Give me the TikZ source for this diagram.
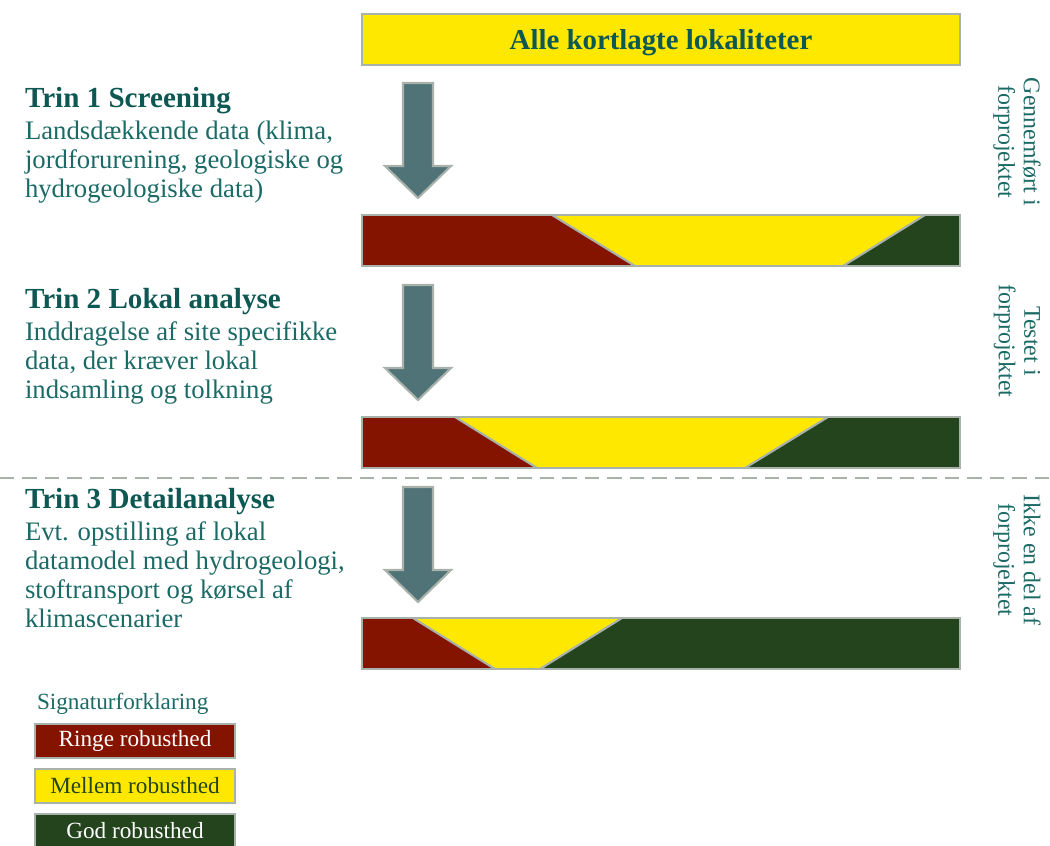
\documentclass[tikz,border=0pt]{standalone}
\usepackage{fontspec}
\setmainfont{Liberation Serif}
\usetikzlibrary{positioning}
\definecolor{ringe}{HTML}{841400}
\definecolor{mellem}{HTML}{FFE800}
\definecolor{god}{HTML}{23441C}
\definecolor{kant}{HTML}{A8B2AA}
\definecolor{pil}{HTML}{4F7377}
\definecolor{tekst}{HTML}{1B6A65}
\definecolor{overskrift}{HTML}{0E5853}
\begin{document}
\begin{tikzpicture}[x=0.025cm,y=-0.025cm]
  \tikzset{every node/.style={inner sep=0pt, outer sep=0pt}}
  \tikzset{kasse/.style={draw=kant, line width=2pt, minimum width=14.95cm, minimum height=1.275cm}}
  \tikzset{forklar/.style={draw=kant, line width=2pt, minimum width=5cm, minimum height=0.85cm, font=\fontsize{16.5}{18}\selectfont}}
  \tikzset{blokpil/.style={fill=pil, draw=kant, line width=1.5pt, line join=miter}}
  \tikzset{trintekst/.style={anchor=north west, align=left, text=tekst, font=\fontsize{19}{20.5}\selectfont}}
  \tikzset{status/.style={rotate=-90, align=center, text=tekst, font=\fontsize{17}{18}\selectfont}}
  \newcommand{\trinhoved}[1]{\textcolor{overskrift}{\fontsize{20.7}{20.5}\selectfont\bfseries #1}}
  \useasboundingbox (0,0) rectangle (1050,846);

  \node[kasse, fill=mellem] (alle) at (661,39.5) {};
  \node[anchor=base, text=overskrift, font=\fontsize{20.5}{22}\selectfont\bfseries] (alletekst) at (661,50) {Alle kortlagte lokaliteter};

  % robusthed bars
  \foreach \yt/\a/\b/\c/\d [count=\i] in {215/552/635/843/925, 417/455/537/745/828, 618/413/495/540/622} {
    \fill[ringe] (362,\yt) -- (\a,\yt) -- (\b,\yt+51) -- (362,\yt+51) -- cycle;
    \fill[mellem] (\a,\yt) -- (\d,\yt) -- (\c,\yt+51) -- (\b,\yt+51) -- cycle;
    \fill[god] (\d,\yt) -- (960,\yt) -- (960,\yt+51) -- (\c,\yt+51) -- cycle;
    \draw[kant, line width=1.5pt] (\a,\yt) -- (\b,\yt+51);
    \draw[kant, line width=1.5pt] (\d,\yt) -- (\c,\yt+51);
    \node[kasse] (bar\i) at (661,\yt+25.5) {};
  }

  \foreach \yt in {83,285,487}
    \draw[blokpil] (403,\yt) -- (433,\yt) -- (433,\yt+83) -- (451,\yt+83) -- (418,\yt+115)
      -- (385,\yt+83) -- (403,\yt+83) -- cycle;

  \node[trintekst] (trin1) at (25,87) {\trinhoved{Trin 1 Screening}\\[2.5pt]Landsdækkende data (klima,\\jordforurening, geologiske og\\hydrogeologiske data)};
  \node[trintekst] (trin2) at (25,288) {\trinhoved{Trin 2 Lokal analyse}\\[2.5pt]Inddragelse af site specifikke\\data, der kræver lokal\\indsamling og tolkning};
  \node[trintekst] (trin3) at (25,488) {\trinhoved{Trin 3 Detailanalyse}\\[2.5pt]Evt. opstilling af lokal\\datamodel med hydrogeologi,\\stoftransport og kørsel af\\klimascenarier};

  \node[status] (status1) at (1017,142) {Gennemført i\\forprojektet};
  \node[status] (status2) at (1017,341) {Testet i\\forprojektet};
  \node[status] (status3) at (1017,560) {Ikke en del af\\forprojektet};

  \draw[kant, line width=1.5pt, dash pattern=on 10pt off 6pt] (0,478) -- (1050,478);

  % signaturforklaring
  \node[anchor=west, text=tekst, font=\fontsize{16.5}{18}\selectfont] (forklaring) at (37,704) {Signaturforklaring};
  \node[forklar, fill=ringe, text=white] (ringe) at (135,741) {Ringe robusthed};
  \node[forklar, fill=mellem, text=god, below=0.275cm of ringe] (mellem) {Mellem robusthed};
  \node[forklar, fill=god, text=white, below=0.275cm of mellem] (god) {God robusthed};
\end{tikzpicture}
\end{document}
